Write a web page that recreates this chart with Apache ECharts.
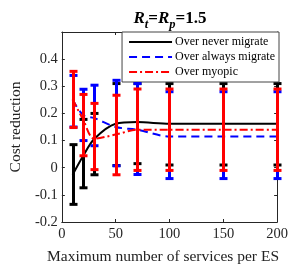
<!DOCTYPE html>
<html><head><meta charset="utf-8">
<script src="https://cdn.jsdelivr.net/npm/echarts@6/dist/echarts.min.js"></script>
<style>html,body{margin:0;padding:0;background:#fff}#c{width:291px;height:270px}</style>
</head><body><div id="c"></div>
<script>
const xs = [10, 20, 30, 50, 70, 100, 150, 200];
const neverMean = [-0.026, 0.045, 0.106, 0.162, 0.168, 0.162, 0.162, 0.162];
const neverLow  = [-0.135, -0.074, -0.026, 0.008, 0.015, 0.01, 0.01, 0.01];
const neverHigh = [0.085, 0.178, 0.2, 0.31, 0.31, 0.31, 0.31, 0.31];
const alwaysMean = [0.25, 0.193, 0.183, 0.15, 0.14, 0.115, 0.115, 0.115];
const alwaysLow  = [0.15, 0.1, 0.081, 0.007, -0.025, -0.04, -0.04, -0.04];
const alwaysHigh = [0.34, 0.289, 0.304, 0.322, 0.31, 0.28, 0.28, 0.28];
const myopicMean = [0.252, 0.175, 0.107, 0.122, 0.14, 0.14, 0.14, 0.14];
const myopicLow  = [0.148, 0.044, -0.007, -0.026, -0.01, -0.01, -0.01, -0.01];
const myopicHigh = [0.355, 0.27, 0.237, 0.267, 0.29, 0.29, 0.29, 0.29];
const xTicks = [0, 50, 100, 150, 200];
const yTicks = [-0.2, -0.1, 0, 0.1, 0.2, 0.3, 0.4];
const names = ['Over never migrate', 'Over always migrate', 'Over myopic'];

const FONT = "'Liberation Serif', 'DejaVu Serif', serif";
const AX = '#262626';
const chart = echarts.init(document.getElementById('c'));

function pairs(m){ return xs.map((x,i)=>[x,m[i]]); }
function errData(lo,hi){ return xs.map((x,i)=>[x,lo[i],hi[i]]); }
function errSeries(lo,hi,color,z){
  return {
    type:'custom', xAxisIndex:0, yAxisIndex:0, z:z, silent:true,
    data: errData(lo,hi),
    renderItem:function(params, api){
      const x = api.value(0);
      const a = api.coord([x, api.value(1)]);
      const b = api.coord([x, api.value(2)]);
      const cx = Math.round(a[0]) + 0.5;
      const w = 4;
      const st = {stroke:color, lineWidth:3, opacity:1, fill:null};
      return {type:'group', children:[
        {type:'line', shape:{x1:cx,y1:a[1],x2:cx,y2:b[1]}, style:st},
        {type:'line', shape:{x1:cx-w,y1:a[1],x2:cx+w,y2:a[1]}, style:st},
        {type:'line', shape:{x1:cx-w,y1:b[1],x2:cx+w,y2:b[1]}, style:st}
      ]};
    }
  };
}
const axisCommon = {
  axisLine:{show:true, onZero:false, lineStyle:{color:AX, width:1}},
  axisTick:{show:true, inside:true, length:3, lineStyle:{color:AX}},
  splitLine:{show:false}
};
chart.setOption({
  animation:false,
  title:{
    text:'{i|R}{s|t}{n|=}{i|R}{s|p}{n|=1.5}',
    left:165, top:1, textAlign:'center',
    textStyle:{rich:{
      i:{fontFamily:FONT, fontStyle:'italic', fontSize:17, color:'#000'},
      s:{fontFamily:FONT, fontStyle:'italic', fontSize:12.5, color:'#000', padding:[12,0,0,0]},
      n:{fontFamily:FONT, fontSize:17, color:'#000'}
    }}
  },
  legend:{
    right:12, top:32, orient:'vertical',
    itemWidth:43, itemHeight:11, itemGap:3,
    padding:[4,4,4,6],
    backgroundColor:'#fff', borderColor:'#444', borderWidth:1, borderRadius:0,
    itemStyle:{opacity:0},
    textStyle:{fontFamily:FONT, fontSize:12, color:'#000', padding:[0,0,0,-2]},
    data: names
  },
  grid:{left:50, right:12, top:32, bottom:47},
  xAxis:[
    Object.assign({type:'value', min:0, max:200, interval:50, position:'bottom',
      name:'Maximum number of services per ES', nameLocation:'middle', nameGap:27,
      nameTextStyle:{fontFamily:FONT, fontSize:15.5, color:'#222', padding:[0,13,0,0]},
      axisLabel:{fontFamily:FONT, fontSize:14.5, color:AX, margin:5}}, axisCommon),
    Object.assign({type:'value', min:0, max:200, interval:50, position:'top',
      axisLabel:{show:false}}, axisCommon)
  ],
  yAxis:[
    Object.assign({type:'value', min:-0.2, max:0.5, interval:0.1, position:'left',
      name:'Cost reduction', nameLocation:'middle', nameGap:34,
      nameTextStyle:{fontFamily:FONT, fontSize:15.5, color:'#222'},
      axisLabel:{fontFamily:FONT, fontSize:14.5, color:AX, margin:4,
        formatter:function(v){ const r=Math.round(v*10)/10; return yTicks.some(t=>Math.abs(t-r)<1e-9) ? String(r) : ''; }}}, axisCommon),
    Object.assign({type:'value', min:-0.2, max:0.5, interval:0.1, position:'right',
      axisLabel:{show:false}}, axisCommon)
  ],
  series:[
    {name:names[0], type:'line', data:pairs(neverMean), smooth:0.3, symbol:'none', z:2,
     lineStyle:{color:'#000', width:2}, itemStyle:{color:'#000'}},
    {name:names[1], type:'line', data:pairs(alwaysMean), smooth:0.3, symbol:'none', z:2,
     lineStyle:{color:'#0000ff', width:2, type:[8,5]}, itemStyle:{color:'#0000ff'}},
    {name:names[2], type:'line', data:pairs(myopicMean), smooth:0.3, symbol:'none', z:2,
     lineStyle:{color:'#ff0000', width:2, type:[8,3,2,3]}, itemStyle:{color:'#ff0000'}},
    errSeries(neverLow, neverHigh, '#000', 3),
    errSeries(alwaysLow, alwaysHigh, '#0000ff', 4),
    errSeries(myopicLow, myopicHigh, '#ff0000', 5)
  ]
});
</script></body></html>
